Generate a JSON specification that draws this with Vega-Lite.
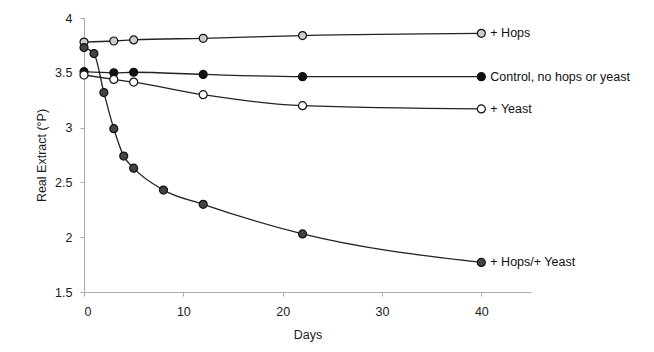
{
  "$schema": "https://vega.github.io/schema/vega-lite/v6.json",
  "width": 447,
  "height": 274,
  "autosize": {"type": "none"},
  "padding": {"left": 84, "top": 18, "right": 123, "bottom": 60},
  "background": "white",
  "config": {
    "view": {"stroke": null},
    "font": "Liberation Sans, Arial, sans-serif"
  },
  "data": {
    "values": [
      {"series": "+ Hops", "day": 0, "value": 3.78},
      {"series": "+ Hops", "day": 3, "value": 3.79},
      {"series": "+ Hops", "day": 5, "value": 3.80},
      {"series": "+ Hops", "day": 12, "value": 3.815},
      {"series": "+ Hops", "day": 22, "value": 3.84},
      {"series": "+ Hops", "day": 40, "value": 3.86},
      {"series": "Control, no hops or yeast", "day": 0, "value": 3.51},
      {"series": "Control, no hops or yeast", "day": 3, "value": 3.50},
      {"series": "Control, no hops or yeast", "day": 5, "value": 3.505},
      {"series": "Control, no hops or yeast", "day": 12, "value": 3.485},
      {"series": "Control, no hops or yeast", "day": 22, "value": 3.465},
      {"series": "Control, no hops or yeast", "day": 40, "value": 3.465},
      {"series": "+ Yeast", "day": 0, "value": 3.48},
      {"series": "+ Yeast", "day": 3, "value": 3.44},
      {"series": "+ Yeast", "day": 5, "value": 3.415},
      {"series": "+ Yeast", "day": 12, "value": 3.30},
      {"series": "+ Yeast", "day": 22, "value": 3.20},
      {"series": "+ Yeast", "day": 40, "value": 3.17},
      {"series": "+ Hops/+ Yeast", "day": 0, "value": 3.73},
      {"series": "+ Hops/+ Yeast", "day": 1, "value": 3.675},
      {"series": "+ Hops/+ Yeast", "day": 2, "value": 3.32},
      {"series": "+ Hops/+ Yeast", "day": 3, "value": 2.99},
      {"series": "+ Hops/+ Yeast", "day": 4, "value": 2.74},
      {"series": "+ Hops/+ Yeast", "day": 5, "value": 2.63},
      {"series": "+ Hops/+ Yeast", "day": 8, "value": 2.43},
      {"series": "+ Hops/+ Yeast", "day": 12, "value": 2.30},
      {"series": "+ Hops/+ Yeast", "day": 22, "value": 2.03},
      {"series": "+ Hops/+ Yeast", "day": 40, "value": 1.77}
    ]
  },
  "encoding": {
    "x": {
      "field": "day",
      "type": "quantitative",
      "scale": {"domain": [0, 45], "nice": false, "zero": false},
      "axis": {
        "values": [0, 10, 20, 30, 40],
        "grid": false,
        "title": "Days",
        "domainColor": "#aaaaaa",
        "tickColor": "#aaaaaa",
        "tickSize": 4,
        "labelPadding": 9,
        "labelFontSize": 12.5,
        "labelColor": "#1a1a1a",
        "titleFontSize": 12.5,
        "titleFontWeight": "normal",
        "titleColor": "#1a1a1a",
        "titlePadding": 11
      }
    },
    "y": {
      "field": "value",
      "type": "quantitative",
      "scale": {"domain": [1.5, 4], "nice": false, "zero": false},
      "axis": {
        "values": [1.5, 2, 2.5, 3, 3.5, 4],
        "format": "~g",
        "grid": false,
        "title": "Real Extract (°P)",
        "domainColor": "#aaaaaa",
        "tickColor": "#aaaaaa",
        "tickSize": 4,
        "labelPadding": 8,
        "labelFontSize": 12.5,
        "labelColor": "#1a1a1a",
        "titleFontSize": 12.5,
        "titleFontWeight": "normal",
        "titleColor": "#1a1a1a",
        "titlePadding": 6
      }
    }
  },
  "layer": [
    {
      "mark": {"type": "line", "interpolate": "monotone", "color": "#222222", "strokeWidth": 1.3},
      "encoding": {"detail": {"field": "series", "type": "nominal"}}
    },
    {
      "mark": {"type": "circle", "size": 64, "stroke": "#111111", "strokeWidth": 1.2, "opacity": 1},
      "encoding": {
        "fill": {
          "field": "series",
          "type": "nominal",
          "scale": {
            "domain": ["+ Hops", "Control, no hops or yeast", "+ Yeast", "+ Hops/+ Yeast"],
            "range": ["#cccccc", "#111111", "#ffffff", "#444444"]
          },
          "legend": null
        }
      }
    },
    {
      "transform": [{"filter": "datum.day == 40"}],
      "mark": {"type": "text", "align": "left", "baseline": "middle", "dx": 9, "fontSize": 12.5, "color": "#111111"},
      "encoding": {"text": {"field": "series", "type": "nominal"}}
    }
  ]
}
